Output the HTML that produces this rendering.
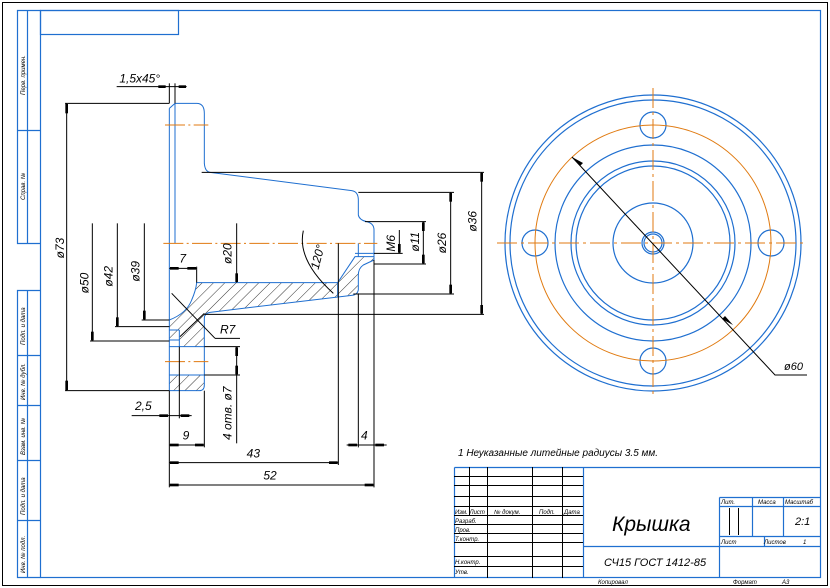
<!DOCTYPE html>
<html><head><meta charset="utf-8"><style>
html,body{margin:0;padding:0;background:#fff;}
svg{display:block;}
text{font-family:"Liberation Sans","DejaVu Sans",sans-serif;font-style:italic;fill:#000;}
</style></head><body>
<svg width="830" height="588" viewBox="0 0 830 588" xmlns="http://www.w3.org/2000/svg">
<defs>
<pattern id="h" patternUnits="userSpaceOnUse" width="24" height="24" patternTransform="rotate(45)">
<line x1="0" y1="0" x2="0" y2="24" stroke="#000" stroke-width="2.4"/>
</pattern>
</defs>
<!-- outer frame -->
<rect x="2.5" y="2.5" width="825" height="583" fill="none" stroke="#000" stroke-width="1"/>
<g fill="none" stroke="#1f6fd0" stroke-width="1.2">
<rect x="40.5" y="10.5" width="780" height="567"/>
<rect x="40.5" y="10.5" width="138" height="24"/>
<!-- left strip -->
<polyline points="40.5,10.5 17.5,10.5 17.5,243.5 40.5,243.5"/>
<line x1="27.5" y1="10.5" x2="27.5" y2="243.5"/>
<line x1="17.5" y1="130.5" x2="40.5" y2="130.5"/>
<polyline points="40.5,290.5 17.5,290.5 17.5,577.5 40.5,577.5"/>
<line x1="27.5" y1="290.5" x2="27.5" y2="577.5"/>
<line x1="17.5" y1="355.5" x2="40.5" y2="355.5"/>
<line x1="17.5" y1="405.5" x2="40.5" y2="405.5"/>
<line x1="17.5" y1="460.5" x2="40.5" y2="460.5"/>
<line x1="17.5" y1="520.5" x2="40.5" y2="520.5"/>
</g>
<g font-size="6">
<text transform="translate(25,95) rotate(-90)">Перв. примен.</text>
<text transform="translate(25,200) rotate(-90)">Справ. №</text>
<text transform="translate(25,345) rotate(-90)">Подп. и дата</text>
<text transform="translate(25,400) rotate(-90)">Инв. № дубл.</text>
<text transform="translate(25,455) rotate(-90)">Взам. инв. №</text>
<text transform="translate(25,515) rotate(-90)">Подп. и дата</text>
<text transform="translate(25,573) rotate(-90)">Инв. № подл.</text>
</g>

<!-- side view, zoom coords -->
<g transform="translate(40,60) scale(0.33333)">
<g stroke="none" fill="url(#h)">
<path d="M388,780 Q440,760 455,720 Q468,690 470,668 L893,668 L945,590 L1000,590 L1000,600 L970,615 Q955,625 955,645 L955,690 Q952,705 935,706 L510,757 Q493,760 493,775 L493,860 L418,860 L418,840 L388,840 Z"/>
<path d="M388,945 L493,945 L493,975 Q493,992 478,992 L388,992 Z"/>
</g>
<g fill="none" stroke="#1f6fd0" stroke-width="3">
<path d="M388,145 L405,130 L470,130 Q493,130 493,160 L493,310 Q495,335 510,337 L935,392 Q955,395 955,420 L955,465 Q958,480 980,485 Q1002,490 1002,510 L1002,600"/>
<line x1="388" y1="145" x2="388" y2="992"/>
<line x1="405" y1="130" x2="405" y2="550"/>
<path d="M388,780 Q440,760 455,720 Q468,690 470,668 L893,668 L945,590 L1002,590"/>
<path d="M1002,600 L970,615 Q955,625 955,645 L955,690 Q952,705 935,706 L510,757 Q493,760 493,775 L493,975 Q493,992 478,992 L388,992"/>
<line x1="945" y1="580" x2="1002" y2="580"/>
<line x1="955" y1="550" x2="955" y2="590"/>
<line x1="388" y1="860" x2="493" y2="860"/>
<line x1="388" y1="945" x2="493" y2="945"/>
<line x1="388" y1="840" x2="418" y2="840"/>
<line x1="418" y1="810" x2="418" y2="860"/>
<line x1="388" y1="810" x2="418" y2="810"/>
<line x1="893" y1="668" x2="893" y2="710"/>
</g>
<g stroke="#e07a10" stroke-width="3" stroke-dasharray="60,10,6,10" fill="none">
<line x1="370" y1="550" x2="1012" y2="550"/>
<line x1="375" y1="195" x2="505" y2="195"/>
<line x1="375" y1="905" x2="505" y2="905"/>
</g>
<g stroke="#000" stroke-width="3" fill="none">
<!-- 1.5x45 -->
<line x1="230" y1="80" x2="440" y2="80"/>
<line x1="388" y1="70" x2="388" y2="130"/>
<line x1="405" y1="70" x2="405" y2="130"/>
<!-- phi73 -->
<line x1="80" y1="130" x2="80" y2="992"/>
<line x1="75" y1="130" x2="388" y2="130"/>
<line x1="75" y1="992" x2="388" y2="992"/>
<!-- phi50 42 39 -->
<line x1="157" y1="490" x2="157" y2="843"/><line x1="150" y1="843" x2="388" y2="843"/>
<line x1="232" y1="490" x2="232" y2="800"/><line x1="225" y1="800" x2="388" y2="800"/>
<line x1="313" y1="490" x2="313" y2="780"/><line x1="305" y1="780" x2="388" y2="780"/>
<!-- 7 -->
<line x1="388" y1="625" x2="470" y2="625"/><line x1="470" y1="620" x2="470" y2="668"/>
<!-- phi20 -->
<line x1="590" y1="490" x2="590" y2="668"/>
<!-- 120 arc -->
<path d="M790,512 Q770,600 880,700"/>
<!-- M6 -->
<line x1="1078" y1="510" x2="1078" y2="580"/><line x1="1002" y1="580" x2="1088" y2="580"/>
<!-- phi11 -->
<line x1="1150" y1="485" x2="1150" y2="612"/><line x1="975" y1="485" x2="1158" y2="485"/><line x1="1002" y1="612" x2="1158" y2="612"/>
<!-- phi26 -->
<line x1="1232" y1="397" x2="1232" y2="702"/><line x1="955" y1="397" x2="1242" y2="397"/><line x1="940" y1="702" x2="1242" y2="702"/>
<!-- phi36 -->
<line x1="1325" y1="337" x2="1325" y2="763"/><line x1="485" y1="337" x2="1332" y2="337"/><line x1="493" y1="763" x2="1332" y2="763"/>
<!-- R7 -->
<line x1="395" y1="700" x2="525" y2="835"/><line x1="525" y1="835" x2="600" y2="835"/>
<line x1="493" y1="760" x2="420" y2="830"/>
<!-- 4 holes -->
<line x1="590" y1="860" x2="590" y2="1150"/><line x1="493" y1="860" x2="600" y2="860"/><line x1="493" y1="945" x2="600" y2="945"/>
<!-- 2.5 -->
<line x1="275" y1="1067" x2="455" y2="1067"/><line x1="418" y1="860" x2="418" y2="1075"/>
<!-- 9 43 52 4 -->
<line x1="388" y1="992" x2="388" y2="1282"/>
<line x1="493" y1="992" x2="493" y2="1162"/>
<line x1="388" y1="1155" x2="493" y2="1155"/>
<line x1="895" y1="550" x2="895" y2="1215"/>
<line x1="388" y1="1208" x2="895" y2="1208"/>
<line x1="1002" y1="600" x2="1002" y2="1282"/>
<line x1="388" y1="1275" x2="1002" y2="1275"/>
<line x1="955" y1="700" x2="955" y2="1162"/>
<line x1="920" y1="1155" x2="1040" y2="1155"/>
</g>
<g fill="#000">
<!-- arrowheads as small rects -->
<rect x="355" y="76" width="22" height="8"/><rect x="416" y="76" width="22" height="8"/>
<rect x="76" y="132" width="8" height="28"/><rect x="76" y="962" width="8" height="28"/>
<rect x="153" y="815" width="8" height="26"/><rect x="228" y="772" width="8" height="26"/><rect x="309" y="752" width="8" height="26"/>
<rect x="390" y="621" width="26" height="8"/><rect x="442" y="621" width="26" height="8"/>
<rect x="586" y="640" width="8" height="26"/>
<rect x="1074" y="552" width="8" height="26"/>
<rect x="1146" y="487" width="8" height="26"/><rect x="1146" y="584" width="8" height="26"/>
<rect x="1228" y="399" width="8" height="26"/><rect x="1228" y="674" width="8" height="26"/>
<rect x="1321" y="339" width="8" height="26"/><rect x="1321" y="735" width="8" height="26"/>
<rect x="586" y="862" width="8" height="26"/><rect x="586" y="917" width="8" height="26"/>
<rect x="358" y="1063" width="26" height="8"/><rect x="422" y="1063" width="26" height="8"/>
<rect x="390" y="1151" width="26" height="8"/><rect x="465" y="1151" width="26" height="8"/>
<rect x="390" y="1204" width="26" height="8"/><rect x="867" y="1204" width="26" height="8"/>
<rect x="390" y="1271" width="26" height="8"/><rect x="974" y="1271" width="26" height="8"/>
<rect x="925" y="1151" width="26" height="8"/><rect x="1006" y="1151" width="26" height="8"/>
</g>
<g font-size="36">
<text x="238" y="68">1,5x45°</text>
<text transform="translate(72,595) rotate(-90)">ø73</text>
<text transform="translate(145,700) rotate(-90)">ø50</text>
<text transform="translate(218,680) rotate(-90)">ø42</text>
<text transform="translate(298,665) rotate(-90)">ø39</text>
<text x="418" y="608">7</text>
<text transform="translate(575,612) rotate(-90)">ø20</text>
<text transform="translate(835,630) rotate(-75)">120°</text>
<text transform="translate(1065,575) rotate(-90)">M6</text>
<text transform="translate(1137,575) rotate(-90)">ø11</text>
<text transform="translate(1218,580) rotate(-90)">ø26</text>
<text transform="translate(1310,515) rotate(-90)">ø36</text>
<text x="540" y="820">R7</text>
<text transform="translate(575,1140) rotate(-90)">4 отв. ø7</text>
<text x="285" y="1050">2,5</text>
<text x="428" y="1138">9</text>
<text x="620" y="1192">43</text>
<text x="670" y="1258">52</text>
<text x="963" y="1138">4</text>
</g>
</g>

<!-- circle view -->
<g fill="none" stroke="#1f6fd0" stroke-width="1.2">
<circle cx="653" cy="243" r="148"/>
<circle cx="653" cy="243" r="143"/>
<circle cx="653" cy="243" r="98"/>
<circle cx="653" cy="243" r="82"/>
<circle cx="653" cy="243" r="77"/>
<circle cx="653" cy="243" r="40"/>
<circle cx="653" cy="243" r="11"/>
<circle cx="653" cy="243" r="9"/>
<circle cx="653" cy="125" r="13"/>
<circle cx="653" cy="361" r="13"/>
<circle cx="535" cy="243" r="13"/>
<circle cx="771" cy="243" r="13"/>
</g>
<g fill="none" stroke="#e07a10" stroke-width="1">
<circle cx="653" cy="243" r="118"/>
<g stroke-dasharray="20,4,3,4">
<line x1="497" y1="243" x2="806" y2="243"/>
<line x1="653" y1="88" x2="653" y2="398"/>
</g>
</g>
<g stroke="#000" stroke-width="1" fill="none">
<polyline points="572,157 775,375 807,375"/>
</g>
<path d="M572,157 L583,163 L580,166 Z M733,325 L722,319 L725,316 Z" fill="#000"/>
<text x="784" y="370" font-size="11">ø60</text>

<text x="458" y="456" font-size="10">1 Неуказанные литейные радиусы 3.5 мм.</text>

<!-- title block -->
<g fill="none" stroke="#1f6fd0" stroke-width="1.2">
<line x1="454.5" y1="467.5" x2="820.5" y2="467.5"/>
<line x1="454.5" y1="467.5" x2="454.5" y2="577.5"/>
<line x1="583.5" y1="467.5" x2="583.5" y2="577.5"/>
<line x1="583.5" y1="546.5" x2="820.5" y2="546.5"/>
<line x1="719.5" y1="497.5" x2="719.5" y2="577.5"/>
<line x1="719.5" y1="497.5" x2="820.5" y2="497.5"/>
<line x1="719.5" y1="506.5" x2="820.5" y2="506.5"/>
<line x1="719.5" y1="536.5" x2="820.5" y2="536.5"/>
<line x1="752.5" y1="497.5" x2="752.5" y2="536.5"/>
<line x1="783.5" y1="497.5" x2="783.5" y2="536.5"/>
<line x1="764.5" y1="536.5" x2="764.5" y2="546.5"/>
</g>
<g fill="none" stroke="#000" stroke-width="1">
<line x1="454" y1="476.5" x2="583" y2="476.5"/>
<line x1="454" y1="485.5" x2="583" y2="485.5"/>
<line x1="454" y1="496.5" x2="583" y2="496.5"/>
<line x1="454" y1="506.5" x2="583" y2="506.5"/>
<line x1="454" y1="515.5" x2="583" y2="515.5"/>
<line x1="454" y1="524.5" x2="583" y2="524.5"/>
<line x1="454" y1="533.5" x2="583" y2="533.5"/>
<line x1="454" y1="542.5" x2="583" y2="542.5"/>
<line x1="454" y1="556.5" x2="583" y2="556.5"/>
<line x1="454" y1="566.5" x2="583" y2="566.5"/>
<line x1="469.5" y1="467" x2="469.5" y2="515"/>
<line x1="487.5" y1="467" x2="487.5" y2="578"/>
<line x1="532.5" y1="467" x2="532.5" y2="578"/>
<line x1="562.5" y1="467" x2="562.5" y2="578"/>
<line x1="729.5" y1="508" x2="729.5" y2="535"/>
<line x1="738.5" y1="508" x2="738.5" y2="535"/>
</g>
<g font-size="6">
<text x="455" y="514">Изм. Лист</text>
<text x="494" y="514">№ докум.</text>
<text x="539" y="514">Подп.</text>
<text x="564" y="514">Дата</text>
<text x="455" y="523">Разраб.</text>
<text x="455" y="532">Пров.</text>
<text x="455" y="541">Т.контр.</text>
<text x="455" y="564">Н.контр.</text>
<text x="455" y="574">Утв.</text>
<text x="721" y="504">Лит.</text>
<text x="758" y="504">Масса</text>
<text x="785" y="504">Масштаб</text>
<text x="721" y="544">Лист</text>
<text x="764" y="544">Листов</text>
<text x="803" y="544">1</text>
<text x="598" y="584">Копировал</text>
<text x="733" y="584">Формат</text>
<text x="782" y="584">А3</text>
</g>
<text x="612" y="531" font-size="21">Крышка</text>
<text x="795" y="525" font-size="11">2:1</text>
<text x="604" y="566" font-size="11">СЧ15 ГОСТ 1412-85</text>
</svg>
</body></html>
